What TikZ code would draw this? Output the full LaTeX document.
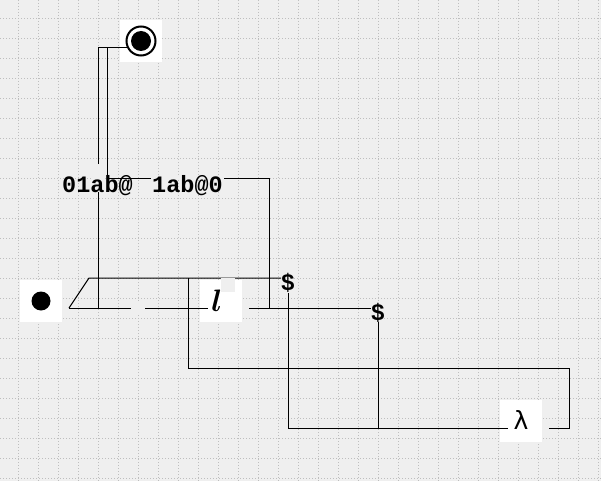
\documentclass[tikz,border=0pt]{standalone}
\usepackage{bm}
\usepackage{fontspec}
\newfontfamily\monobf{Liberation Mono}[BoldFont={* Bold}]
\newfontfamily\dejavu{DejaVu Sans}
\definecolor{bgc}{RGB}{239,239,239}
\definecolor{gridc}{RGB}{190,190,190}
\tikzset{
  gridline/.style={draw=gridc, line width=0.8pt, dash pattern=on 1pt off 2pt},
  wire/.style={draw=black, line width=1pt, line join=miter},
  statebox/.style={fill=white, draw=none, minimum width=42pt, minimum height=42pt, inner sep=0pt},
  lbl/.style={font=\monobf\bfseries\fontsize{23.5}{24}\selectfont, inner sep=0pt, text=black},
  gap/.style={fill=bgc, draw=none, inner sep=0pt}
}
\begin{document}
\begin{tikzpicture}[x=1pt,y=-1pt]
\useasboundingbox (0,0) rectangle (601,481);
\fill[bgc] (0,0) rectangle (601,481);
\foreach \g in {18,38,...,598} \draw[gridline] (\g,0) -- (\g,481);
\foreach \g in {18,38,...,478} \draw[gridline] (0,\g) -- (601,\g);

% state nodes
\node[statebox] (fin) at (141,41) {};
\draw[line width=2pt, fill=white] (fin.center) circle (14.5);
\fill[black] (fin.center) circle (10);
\node[statebox] (ini) at (41,301) {};
\fill[black] (ini.center) circle (9.5);
\node[statebox] (ell) at (221,301) {};
\node[statebox] (lam) at (521,421) {};
\node[inner sep=0pt, font=\dejavu\fontsize{25}{26}\selectfont] (lamt) at (521,420) {λ};

% bend coordinates
\coordinate (a0) at (128,48);
\coordinate (a1) at (98,48);
\coordinate (a2) at (98,308);
\coordinate (b1) at (107,48);
\coordinate (b2) at (107,178);
\coordinate (b3) at (269,178);
\coordinate (b4) at (269,308);
\coordinate (c0) at (69,308);
\coordinate (c1) at (208,308);
\coordinate (d1) at (89,278);
\coordinate (d2) at (281,278);
\coordinate (e0) at (188,278);
\coordinate (e1) at (188,368);
\coordinate (e2) at (569,368);
\coordinate (e3) at (569,428);
\coordinate (e4) at (549,428);
\coordinate (f0) at (288,293);
\coordinate (f1) at (288,428);
\coordinate (f2) at (508,428);
\coordinate (g0) at (249,308);
\coordinate (g1) at (371,308);
\coordinate (h0) at (378,322);
\coordinate (h1) at (378,428);

% connectors
\draw[wire] (a0) -- (a1) -- (a2);
\draw[wire] (b1) -- (b2) -- (b3) -- (b4);
\draw[wire] (c0) -- (c1);
\draw[wire] (c0) -- (d1) -- (d2);
\draw[wire] (e0) -- (e1) -- (e2) -- (e3) -- (e4);
\draw[wire] (f0) -- (f1) -- (f2);
\draw[wire] (g0) -- (g1);
\draw[wire] (h0) -- (h1);

% label backgrounds (gaps)
\node[gap, minimum width=14pt, minimum height=28pt] (gapA) at (98,178) {};
\node[gap, minimum width=73pt, minimum height=4pt] (gapB) at (187.5,178) {};
\node[gap, minimum width=14pt, minimum height=14pt] (gapC) at (138,308) {};
\node[gap, minimum width=14pt, minimum height=14pt] (gapD) at (228,285) {};
\node[inner sep=0pt] (ellt) at (217,300.5) {\scalebox{3.1}{$\bm{l}$}};

% labels
\node[lbl, anchor=base] (la) at (97.5,192) {01ab@};
\node[lbl, anchor=base] (lb) at (187.5,192) {1ab@0};
\node[lbl, anchor=base] (ld1) at (288,290) {\$};
\node[lbl, anchor=base] (ld2) at (378,320) {\$};
\end{tikzpicture}
\end{document}
